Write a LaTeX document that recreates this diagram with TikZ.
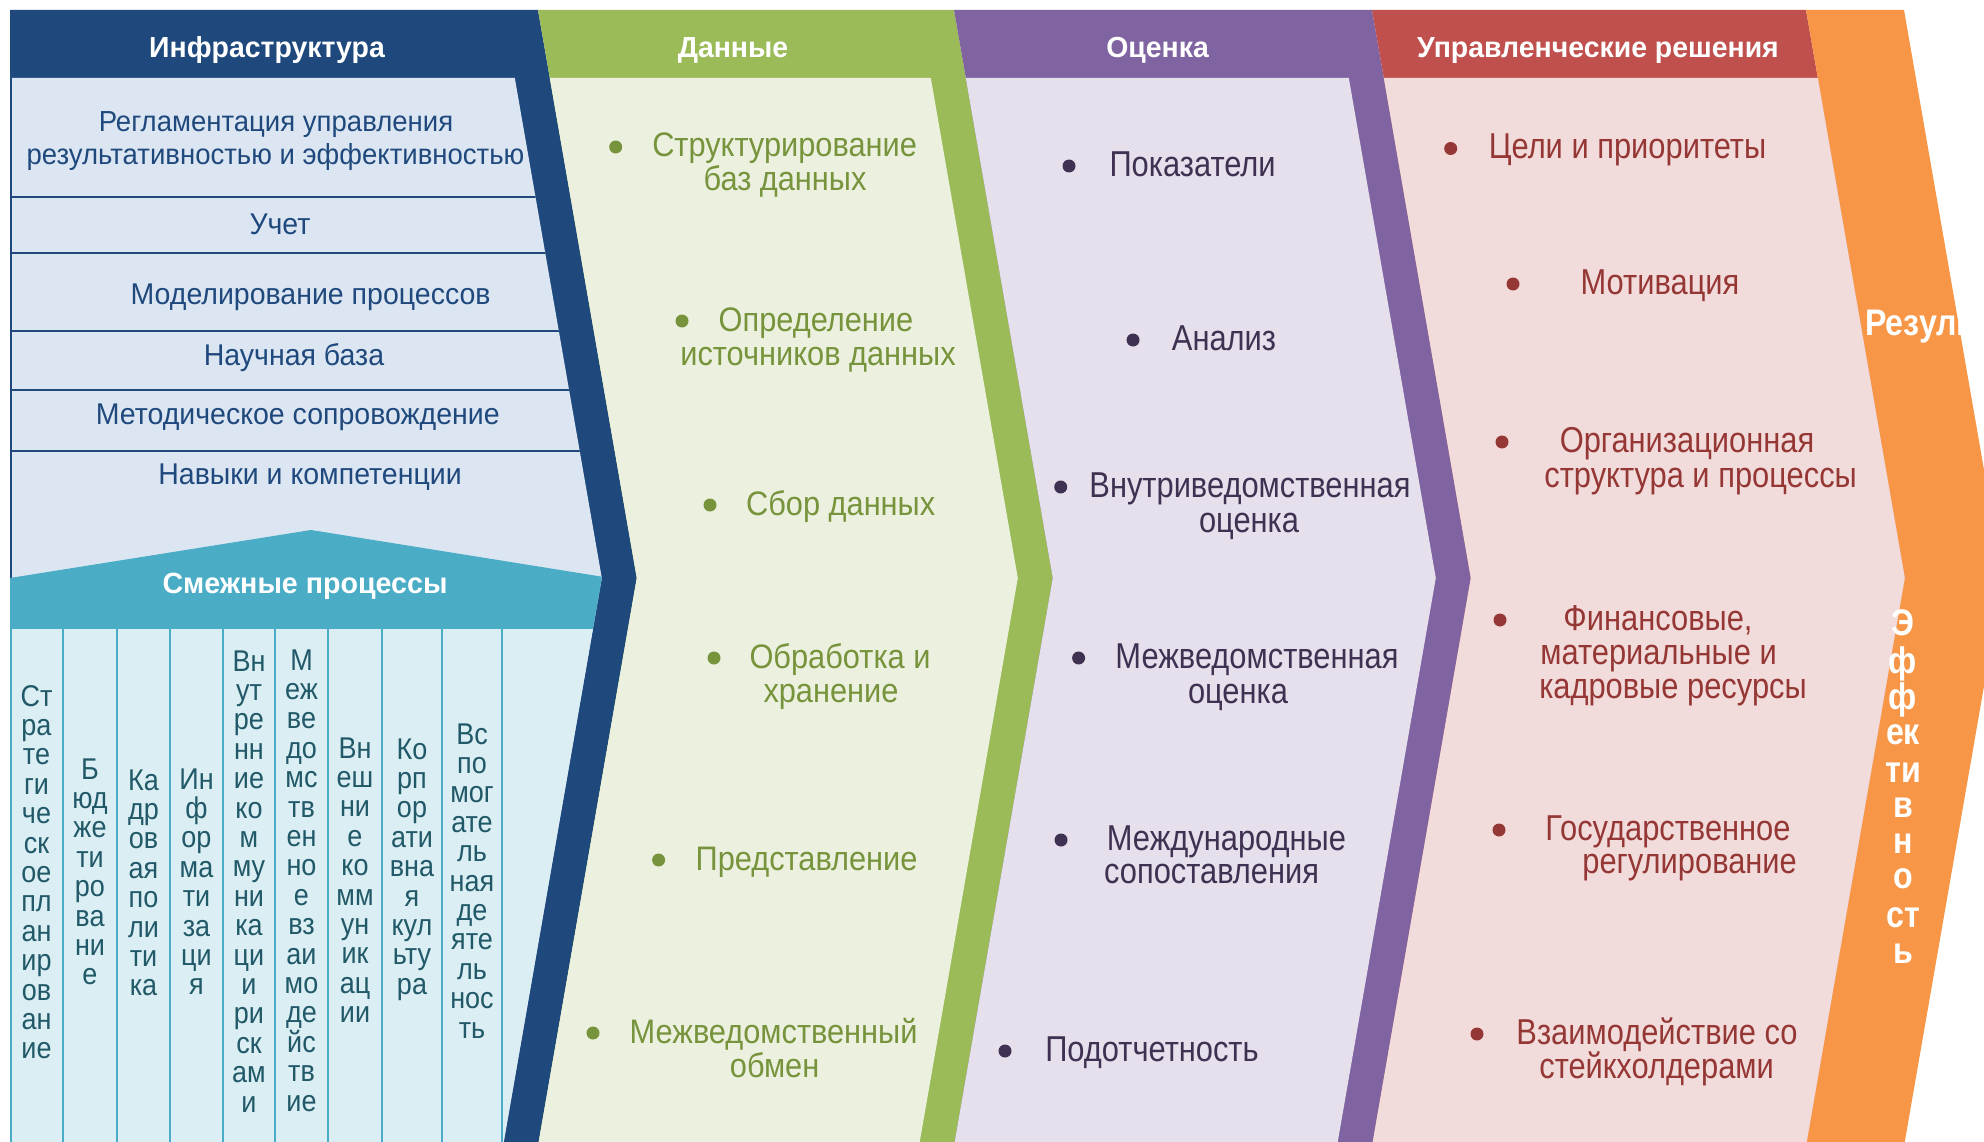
\documentclass[tikz,border=0pt]{standalone}
\usepackage{fontspec}
\setmainfont{Liberation Sans}
\newfontfamily\fInf[FakeStretch=0.95]{Liberation Sans}
\newfontfamily\fDat[FakeStretch=0.905]{Liberation Sans}
\newfontfamily\fEv[FakeStretch=0.857]{Liberation Sans}
\newfontfamily\fHd[FakeStretch=0.98]{Liberation Sans}
\newfontfamily\fCl[FakeStretch=0.90]{Liberation Sans}
\newfontfamily\fRs[FakeStretch=0.87]{Liberation Sans}
\definecolor{blueD}{HTML}{1F497D}
\definecolor{blueL}{HTML}{DCE6F2}
\definecolor{infT}{HTML}{1F497D}
\definecolor{tealD}{HTML}{4BACC6}
\definecolor{cyanL}{HTML}{DAEEF3}
\definecolor{colT}{HTML}{215968}
\definecolor{greenD}{HTML}{9BBB59}
\definecolor{greenL}{HTML}{EBF1DE}
\definecolor{greenT}{HTML}{77933C}
\definecolor{purpD}{HTML}{8064A2}
\definecolor{purpL}{HTML}{E5E0EC}
\definecolor{purpT}{HTML}{3F3151}
\definecolor{redD}{HTML}{C0504D}
\definecolor{redL}{HTML}{F2DCDB}
\definecolor{redT}{HTML}{953735}
\definecolor{orangeD}{HTML}{F79646}
\tikzset{
  hdr/.style={font=\fHd\bfseries\fontsize{29}{29}\selectfont, text=white, anchor=base, inner sep=0pt},
  inf/.style={font=\fInf\fontsize{30}{30}\selectfont, text=infT, anchor=base, inner sep=0pt},
  infsmall/.style={inf, font=\fInf\fontsize{29}{29}\selectfont},
  dat/.style={font=\fDat\fontsize{34}{34}\selectfont, text=greenT, anchor=base, inner sep=0pt},
  evl/.style={font=\fEv\fontsize{36}{36}\selectfont, text=purpT, anchor=base, inner sep=0pt},
  dec/.style={font=\fEv\fontsize{36}{36}\selectfont, text=redT, anchor=base, inner sep=0pt},
  coltext/.style={font=\fCl\fontsize{30}{30}\selectfont, text=colT, anchor=base, inner sep=0pt},
  restext/.style={font=\fRs\bfseries\fontsize{37}{37}\selectfont, text=white, anchor=base, inner sep=0pt},
  bul/.style={circle, inner sep=0pt, minimum size=13pt, fill=#1},
  sepline/.style={draw=blueD, line width=2pt},
  colsep/.style={draw=tealD, line width=2.2pt},
}
\begin{document}
\begin{tikzpicture}[x=1pt, y=-1pt]
\useasboundingbox (0,0) rectangle (1984,1142);
\fill[white] (0,0) rectangle (1984,1142);
\clip (0,0) rectangle (1984,1142);
% dark chevrons
\fill[blueD] (10,10) -- (538,10) -- (636.8,578) -- (538,1146) -- (10,1146) -- cycle;
\fill[greenD] (538,10) -- (954,10) -- (1052.8,578) -- (954,1146) -- (538,1146) -- (636.8,578) -- cycle;
\fill[purpD] (954,10) -- (1372,10) -- (1470.8,578) -- (1372,1146) -- (954,1146) -- (1052.8,578) -- cycle;
\fill[redD] (1372,10) -- (1806,10) -- (1904.8,578) -- (1806,1146) -- (1372,1146) -- (1470.8,578) -- cycle;
\fill[orangeD] (1806,10) -- (1904,10) -- (2002.8,578) -- (1904,1146) -- (1806,1146) -- (1904.8,578) -- cycle;
% light bodies
\fill[blueL] (10,78) -- (514.8,78) -- (601.8,578) -- (503,1146) -- (10,1146) -- cycle;
\fill[greenL] (549.8,78) -- (930.8,78) -- (1017.8,578) -- (919,1146) -- (538,1146) -- (636.8,578) -- cycle;
\fill[purpL] (965.8,78) -- (1348.8,78) -- (1435.8,578) -- (1337,1146) -- (954,1146) -- (1052.8,578) -- cycle;
\fill[redL] (1383.8,78) -- (1817.8,78) -- (1904.8,578) -- (1806,1146) -- (1372,1146) -- (1470.8,578) -- cycle;
% infrastructure inner parts
\begin{scope}
  \clip (10,78) -- (514.8,78) -- (601.8,578) -- (503,1146) -- (10,1146) -- cycle;
  \foreach \yy in {197,253,331,390,451} \draw[sepline] (10,\yy) -- (660,\yy);
  \draw[blueD, line width=2.5pt] (11,78) -- (11,580);
  \fill[tealD] (10,578) -- (311,530) -- (660,586) -- (660,629) -- (10,629) -- cycle;
  \fill[cyanL] (10,629) rectangle (660,1146);
  \foreach \xx in {63,117,170,223,275,328,382,442,502} \draw[colsep] (\xx,629) -- (\xx,1146);
  \draw[tealD, line width=2pt] (11,629) -- (11,1146);
\end{scope}
% headers
\node[hdr] (h1) at (267,57.4) {Инфраструктура};
\node[hdr] (h2) at (733,57.4) {Данные};
\node[hdr] (h3) at (1157.6,57.4) {Оценка};
\node[hdr] (h4) at (1598,57.4) {Управленческие решения};
\node[hdr, font=\fHd\bfseries\fontsize{29.2}{29.2}\selectfont] (h5) at (305,593) {Смежные процессы};
% infrastructure rows
\node[infsmall] (i1a) at (276,132) {Регламентация управления};
\node[infsmall] (i1b) at (275.5,164.6) {результативностью и эффективностью};
\node[inf] (i2) at (280,235) {Учет};
\node[inf] (i3) at (310.6,304) {Моделирование процессов};
\node[inf] (i4) at (294,365.5) {Научная база};
\node[inf] (i5) at (297.8,424.8) {Методическое сопровождение};
\node[inf] (i6) at (310,484) {Навыки и компетенции};
% related processes columns
\foreach \t [count=\i from 0] in {Ст,ра,те,ги,че,ск,ое,пл,ан,ир,ов,ан,ие}
  \node[coltext] (ca\i) at (36.5,{706+29.4*\i}) {\t};
\foreach \t [count=\i from 0] in {Б,юд,же,ти,ро,ва,ни,е}
  \node[coltext] (cb\i) at (90,{779+29.4*\i}) {\t};
\foreach \t [count=\i from 0] in {Ка,др,ов,ая,по,ли,ти,ка}
  \node[coltext] (cc\i) at (143.5,{790+29.4*\i}) {\t};
\foreach \t [count=\i from 0] in {Ин,ф,ор,ма,ти,за,ци,я}
  \node[coltext] (cd\i) at (196.5,{789+29.4*\i}) {\t};
\foreach \t [count=\i from 0] in {Вн,ут,ре,нн,ие,ко,м,му,ни,ка,ци,и,ри,ск,ам,и}
  \node[coltext] (ce\i) at (249,{671+29.4*\i}) {\t};
\foreach \t [count=\i from 0] in {М,еж,ве,до,мс,тв,ен,но,е,вз,аи,мо,де,йс,тв,ие}
  \node[coltext] (cf\i) at (301.5,{670+29.4*\i}) {\t};
\foreach \t [count=\i from 0] in {Вн,еш,ни,е,ко,мм,ун,ик,ац,ии}
  \node[coltext] (cg\i) at (355,{758+29.4*\i}) {\t};
\foreach \t [count=\i from 0] in {Ко,рп,ор,ати,вна,я,кул,ьту,ра}
  \node[coltext] (ch\i) at (412,{759+29.4*\i}) {\t};
\foreach \t [count=\i from 0] in {Вс,по,мог,ате,ль,ная,де,яте,ль,нос,ть}
  \node[coltext] (ci\i) at (472,{744+29.4*\i}) {\t};
% data column
\node[bul=greenT] (gb1) at (615.7,147) {};
\node[dat] (g1a) at (784.6,157) {Структурирование};
\node[dat] (g1b) at (785,191) {баз данных};
\node[bul=greenT] (gb2) at (682,321) {};
\node[dat] (g2a) at (816,331) {Определение};
\node[dat] (g2b) at (818,365.5) {источников данных};
\node[bul=greenT] (gb3) at (710,505) {};
\node[dat] (g3) at (840.7,515.7) {Сбор данных};
\node[bul=greenT] (gb4) at (714,658) {};
\node[dat] (g4a) at (840,668) {Обработка и};
\node[dat] (g4b) at (831,702) {хранение};
\node[bul=greenT] (gb5) at (658.6,860) {};
\node[dat] (g5) at (806.6,870) {Представление};
\node[bul=greenT] (gb6) at (593,1033) {};
\node[dat] (g6a) at (773.6,1043) {Межведомственный};
\node[dat] (g6b) at (774.6,1077) {обмен};
% evaluation column
\node[bul=purpT] (pb1) at (1069,166) {};
\node[evl] (p1) at (1192.6,176.7) {Показатели};
\node[bul=purpT] (pb2) at (1133,340) {};
\node[evl] (p2) at (1224,350) {Анализ};
\node[bul=purpT] (pb3) at (1060.7,487) {};
\node[evl] (p3a) at (1250,497.5) {Внутриведомственная};
\node[evl] (p3b) at (1249,532) {оценка};
\node[bul=purpT] (pb4) at (1078.6,658) {};
\node[evl] (p4a) at (1257,668) {Межведомственная};
\node[evl] (p4b) at (1238,703) {оценка};
\node[bul=purpT] (pb5) at (1061,840) {};
\node[evl] (p5a) at (1226.5,850) {Международные};
\node[evl] (p5b) at (1211.6,883.7) {сопоставления};
\node[bul=purpT] (pb6) at (1005,1051) {};
\node[evl] (p6) at (1152,1061) {Подотчетность};
% decisions column
\node[bul=redT] (rb1) at (1450.7,148.5) {};
\node[dec] (r1) at (1627.5,159) {Цели и приоритеты};
\node[bul=redT] (rb2) at (1513,284) {};
\node[dec] (r2) at (1660,294.7) {Мотивация};
\node[bul=redT] (rb3) at (1502,442) {};
\node[dec] (r3a) at (1687,452.7) {Организационная};
\node[dec] (r3b) at (1700.6,487) {структура и процессы};
\node[bul=redT] (rb4) at (1500,620) {};
\node[dec] (r4a) at (1658,630.5) {Финансовые,};
\node[dec] (r4b) at (1658.6,664) {материальные и};
\node[dec] (r4c) at (1673,698) {кадровые ресурсы};
\node[bul=redT] (rb5) at (1499,830) {};
\node[dec] (r5a) at (1668,840) {Государственное};
\node[dec] (r5b) at (1689.6,873.7) {регулирование};
\node[bul=redT] (rb6) at (1477,1034) {};
\node[dec] (r6a) at (1657,1044) {Взаимодействие со};
\node[dec] (r6b) at (1656.6,1078) {стейкхолдерами};
% result column
\begin{scope}
  \clip (1806,10) -- (1904,10) -- (2002.8,578) -- (1904,1146) -- (1806,1146) -- (1904.8,578) -- cycle;
  \node[restext, anchor=base west] (res) at (1865,335) {Результативность и};
\end{scope}
\foreach \t/\yy [count=\i] in {Э/635,ф/673,ф/709,ек/744,ти/782,в/817,н/853,о/888,ст/927,ь/963}
  \node[restext] (e\i) at (1903,\yy) {\t};
\end{tikzpicture}
\end{document}
